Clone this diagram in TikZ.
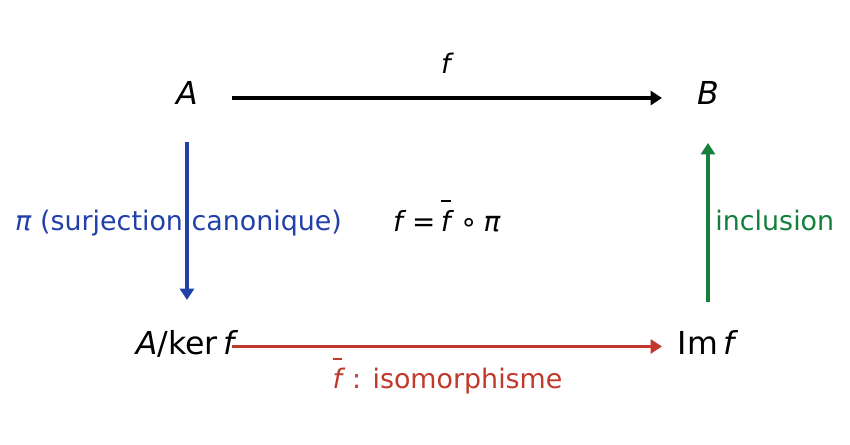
\documentclass[tikz,border=0pt]{standalone}
\usepackage{fontspec}
\setmainfont{DejaVu Sans}
\usetikzlibrary{arrows.meta}
\definecolor{piblue}{RGB}{34,64,170}
\definecolor{incgreen}{RGB}{20,128,60}
\definecolor{isored}{RGB}{192,57,43}
\newcommand{\fb}{\makebox[0pt][l]{\rule[1.08em]{0.36em}{0.055em}}\textit{f}}

\begin{document}
\begin{tikzpicture}[thick,x=0.02cm,y=-0.02cm,
		obj/.style={inner sep=0pt,text height=13.1pt,text depth=0pt,font=\fontsize{18}{22}\selectfont},
		lbl/.style={inner sep=0pt,font=\fontsize{15.3}{18}\selectfont},
		map/.style={line width=2.2pt,-{Triangle[length=6.5pt,width=8pt]}}]
		\useasboundingbox (0,0) rectangle (850,445);
		\node[obj] (A) at (187,93) {\textit{A}};%depart
		\node[obj] (B) at (708,93) {\textit{B}};%arrivee
		\node[obj] (Q) at (187,343) {\textit{A}/ker\,\textit{f}};%quotient
		\node[obj] (I) at (708,343) {Im\,\textit{f}};%image
		\draw [map,shorten <=0.9cm,shorten >=0.92cm] ([yshift=-0.1cm]A.center)--([yshift=-0.1cm]B.center)
		node[lbl,midway,anchor=base,yshift=0.48cm] {\textit{f}};
		\draw [map,piblue,shorten <=0.98cm,shorten >=0.86cm] (A.center)--(Q.center)
		node[lbl,midway,anchor=base,xshift=-0.17cm,yshift=-0.26cm] {\textit{π} (surjection canonique)};
		\draw [map,incgreen,shorten <=0.82cm,shorten >=1cm] (I.center)--(B.center)
		node[lbl,midway,anchor=base west,xshift=0.11cm,yshift=-0.26cm] {inclusion};
		\draw [map,isored,shorten <=0.9cm,shorten >=0.92cm] ([yshift=-0.07cm]Q.center)--([yshift=-0.07cm]I.center)
		node[lbl,midway,anchor=base,yshift=-0.85cm] {\fb\hspace{0.25em}: isomorphisme};
		
		\node[lbl,anchor=base,font=\fontsize{15.8}{18}\selectfont] (eq) at (447,232) {\textit{f}\hspace{0.2em}=\hspace{0.2em}\fb\hspace{0.22em}∘\hspace{0.22em}\textit{π}};% factorisation
\end{tikzpicture}
\end{document}
